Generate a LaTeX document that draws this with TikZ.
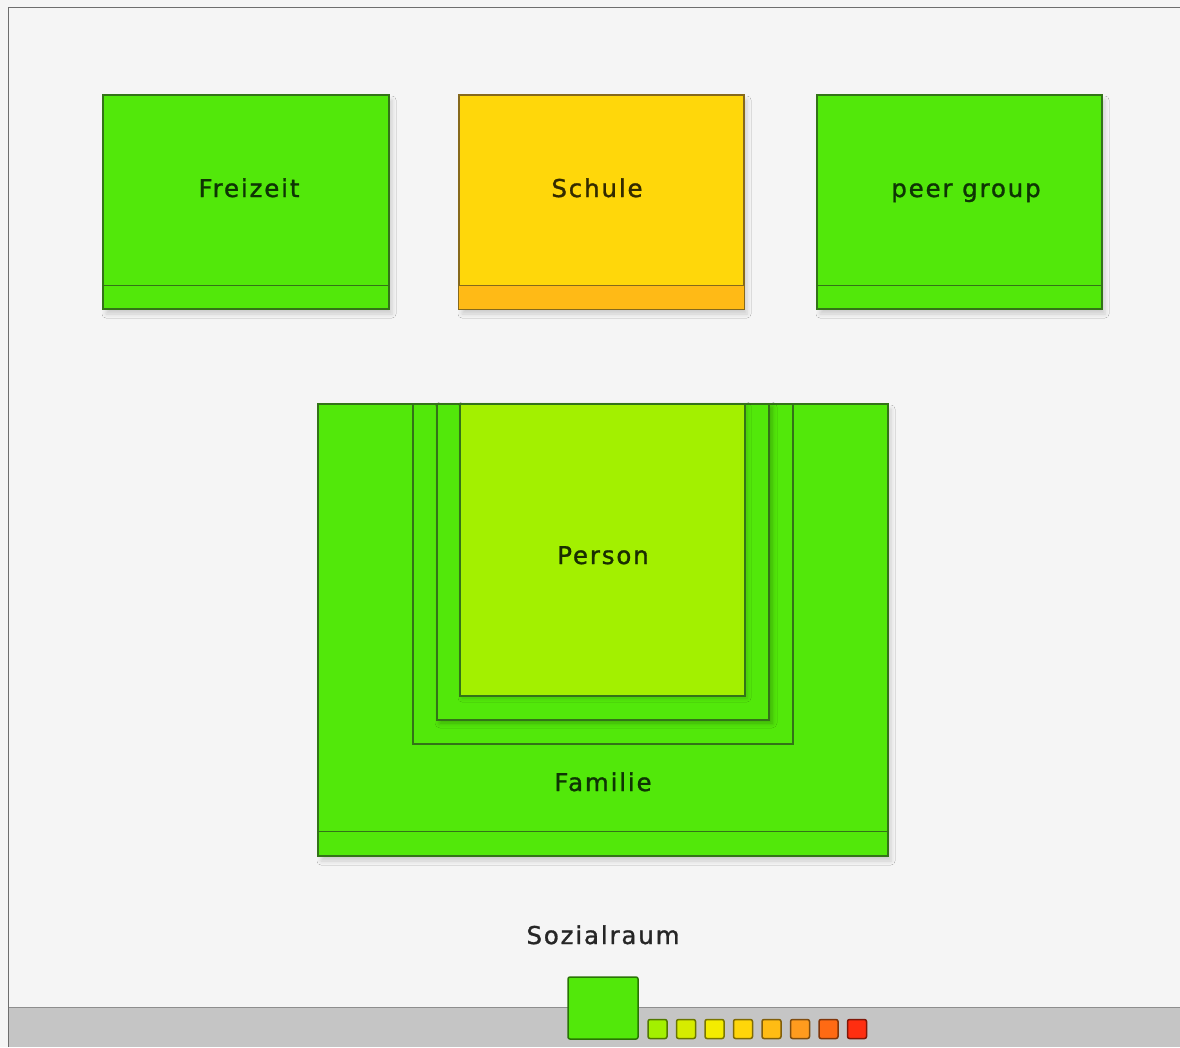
\documentclass[tikz,border=0pt]{standalone}
\usepackage{fontspec}
\setmainfont{DejaVu Sans}[LetterSpace=7.5, FakeBold=1.2]
\usetikzlibrary{shadows.blur}
\definecolor{bg}{HTML}{F5F5F5}
\definecolor{barc}{HTML}{C5C5C5}
\definecolor{barline}{HTML}{8E8E8E}
\definecolor{framec}{HTML}{6E6E6E}
\definecolor{grn}{HTML}{52E80A}
\definecolor{grnline}{HTML}{337318}
\definecolor{lime}{HTML}{A3F000}
\definecolor{yel}{HTML}{FFD70A}
\definecolor{yelstripe}{HTML}{FFBA16}
\definecolor{yelline}{HTML}{86691C}
\definecolor{txtgrn}{HTML}{0E3404}
\definecolor{txtyel}{HTML}{332A00}
\definecolor{txtlime}{HTML}{1A2E00}
\definecolor{lg1}{HTML}{A3F000}
\definecolor{lg2}{HTML}{D6EC00}
\definecolor{lg3}{HTML}{F4EC00}
\definecolor{lg4}{HTML}{FFD60A}
\definecolor{lg5}{HTML}{FFBC14}
\definecolor{lg6}{HTML}{FF9B1E}
\definecolor{lg7}{HTML}{FF6A14}
\definecolor{lg8}{HTML}{FF2E10}
\tikzset{
  box/.style={draw=grnline, fill=grn, line width=1.1pt, inner sep=0pt, rectangle},
  shad/.style={blur shadow={shadow xshift=3pt, shadow yshift=-5pt, shadow blur radius=4pt, shadow opacity=16}},
  lbl/.style={font=\fontsize{24.5pt}{28pt}\selectfont, text=txtgrn, inner sep=0pt, anchor=base},
  stripe/.style={draw=grnline, line width=1.1pt},
  legsq/.style={rectangle, rounded corners=2pt, line width=1.5pt, inner sep=0pt, minimum width=19pt, minimum height=19pt},
}
\begin{document}
\begin{tikzpicture}[x=1pt,y=-1pt]
\fill[bg] (0,0) rectangle (1180,1047);
\useasboundingbox (0,0) rectangle (1180,1047);
% bottom bar and frame
\fill[barc] (8,1007) rectangle (1180,1047);
\draw[barline, line width=1.5pt] (8,1007.5) -- (1180,1007.5);
\draw[framec, line width=1.2pt] (1180,7.5) -- (8.5,7.5) -- (8.5,1047);

% top boxes
\node[box, shad, minimum width=286pt, minimum height=214pt] (frei) at (246,202) {};
\draw[stripe] ([yshift=24pt]frei.south west) -- ([yshift=24pt]frei.south east);
\node[lbl] (tfrei) at (249,197) {Freizeit};

\node[box, shad, fill=yel, draw=yelline, minimum width=285pt, minimum height=214pt] (schule) at (601.5,202) {};
\fill[yelstripe] ([xshift=0.6pt,yshift=0.6pt]schule.south west) rectangle ([xshift=-0.6pt,yshift=24pt]schule.south east);
\draw[draw=yelline, line width=1.1pt] ([yshift=24pt]schule.south west) -- ([yshift=24pt]schule.south east);
\node[lbl, text=txtyel] (tschule) at (597,197) {Schule};

\node[box, shad, minimum width=285pt, minimum height=214pt] (peer) at (959.5,202) {};
\draw[stripe] ([yshift=24pt]peer.south west) -- ([yshift=24pt]peer.south east);
\node[lbl] (tpeer) at (966,197) {peer group};

% nested boxes
\node[box, shad, minimum width=570pt, minimum height=452pt] (fam) at (603,630) {};
\draw[stripe] ([yshift=25pt]fam.south west) -- ([yshift=25pt]fam.south east);
\node[box, minimum width=380pt, minimum height=340pt] (ring1) at (603,574) {};
\node[box, blur shadow={shadow xshift=3pt, shadow yshift=-3pt, shadow blur radius=5pt, shadow opacity=26}, minimum width=332pt, minimum height=316pt] (ring2) at (603,562) {};
\node[box, fill=lime, blur shadow={shadow xshift=2pt, shadow yshift=-2pt, shadow blur radius=4pt, shadow opacity=16}, minimum width=285pt, minimum height=292pt] (person) at (602.5,550) {};
\draw[grnline, line width=1.1pt] (fam.north west) -- (fam.north east);
\node[lbl, text=txtlime] (tperson) at (603,564) {Person};
\node[lbl] (tfam) at (603,791) {Familie};

% legend
\node[lbl, text=black!85] (tsoz) at (603,944) {Sozialraum};
\node[legsq, fill=grn, draw=grn!50!black, minimum width=70pt, minimum height=62pt] (lbig) at (603,1008) {};
\foreach \i in {1,...,8} {
  \node[legsq, fill=lg\i, draw=lg\i!50!black] (leg\i) at (629+28.5*\i,1029) {};
}
\end{tikzpicture}
\end{document}
